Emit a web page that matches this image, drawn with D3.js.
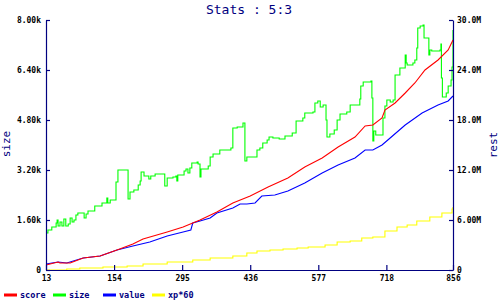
<!DOCTYPE html>
<html>
<head>
<meta charset="utf-8">
<script src="https://cdn.jsdelivr.net/npm/d3@7"></script>
<style>
  body { margin: 0; background: #fff; }
  text { font-family: "DejaVu Sans Mono", monospace; }
</style>
</head>
<body>
<script>
// values, x is the turn number
const xTicks = [13, 154, 295, 436, 577, 718, 856]
const leftTicks = [0, 1600, 3200, 4800, 6400, 8000]
const leftTickLabels = ["0", "1.60k", "3.20k", "4.80k", "6.40k", "8.00k"]
const rightTicks = [0, 6, 12, 18, 24, 30]
const rightTickLabels = ["0", "6.00M", "12.0M", "18.0M", "24.0M", "30.0M"]

// size, left axis
const sizeX = [13,17,25,34,36,38,42,46,50,54,59,63,67,71,75,79,88,92,96,100,112,114,125,129,137,139,141,146,156,158,162,181,183,187,195,204,208,210,216,226,230,239,255,259,264,276,282,284,286,299,303,307,311,315,326,328,332,334,349,353,359,373,396,400,409,421,425,429,446,450,456,462,471,475,483,496,508,523,531,545,549,566,570,576,581,587,593,595,601,610,616,622,636,643,657,663,665,670,686,688,690,692,696,709,711,715,719,726,732,736,746,757,759,761,773,777,781,783,788,794,796,804,806,808,812,829,831,832,834,837,842,846,852,854,856]
const sizeY = [1184,1280,1376,1504,1600,1408,1536,1408,1632,1408,1472,1664,1536,1600,1760,1824,1824,1664,1792,1888,1888,2048,2048,2144,2144,2304,2144,2240,2240,2816,3200,3200,2272,2496,2560,2720,2848,3136,3008,2912,3008,3072,3072,2688,2944,2976,3008,2848,3040,3168,3232,3104,3264,3424,3456,3392,2976,3232,3328,3616,3712,3840,3904,4544,4576,4704,3488,3616,3616,3840,3904,4064,4160,4256,4224,4192,4288,4384,4768,4864,5024,5056,5344,5408,5216,5280,4800,4256,4352,4480,4800,4992,5056,5280,5280,5472,5888,6016,6048,5504,4128,4448,4320,4320,4864,5248,5440,5376,5440,6240,6464,6880,6624,6560,6624,6720,7104,7744,7808,7840,7424,7424,6880,7040,7008,7040,7232,6144,5536,5536,5664,5888,6080,6496,7680]

// score, right axis (millions)
const scoreX = [13,38,42,63,90,125,160,193,214,264,297,332,367,400,436,473,514,549,585,618,653,674,690,709,715,736,757,777,798,825,846,856]
const scoreY = [0.6,0.96,0.84,0.84,1.44,1.68,2.4,3.12,3.72,4.56,5.16,6.0,6.96,8.04,8.88,9.96,11.04,12.36,13.44,14.76,15.96,17.28,17.4,18.24,19.2,20.04,21.24,22.44,24.0,25.2,26.4,27.6]

// value, right axis (millions)
const valueX = [13,38,56,90,125,160,193,228,264,297,313,317,332,353,367,400,415,429,446,460,487,514,549,585,618,653,674,690,709,721,757,792,825,846,856]
const valueY = [0.72,0.96,0.84,1.44,1.68,2.4,2.88,3.36,4.08,4.56,4.8,5.64,5.88,6.24,6.84,7.44,7.92,7.92,8.04,8.88,9.0,9.48,10.44,11.64,12.6,13.44,14.4,14.4,15.0,15.6,17.4,18.84,19.8,20.28,20.88]

// xp*60, right axis (millions)
const xpX = [13,56,83,131,181,214,264,317,353,400,429,450,477,504,533,556,591,616,643,667,690,715,740,761,781,808,833,854,856]
const xpY = [0.0,0.12,0.24,0.36,0.48,0.72,0.96,1.2,1.44,1.68,2.04,2.28,2.4,2.52,2.64,2.76,3.0,3.36,3.48,3.84,3.96,4.68,5.16,5.4,5.88,6.36,6.84,7.32,7.56]

const width = 500, height = 300
const margin = {top: 20, right: 47, bottom: 30, left: 46}
const navy = "#000080"

const svg = d3.select("body")
  .append("svg")
    .attr("width", width)
    .attr("height", height)

const x = d3.scaleLinear()
  .domain([13, 856])
  .range([margin.left, width - margin.right])

const yLeft = d3.scaleLinear()
  .domain([0, 8000])
  .range([height - margin.bottom, margin.top])

const yRight = d3.scaleLinear()
  .domain([0, 30])
  .range([height - margin.bottom, margin.top])

// title
svg.append("text")
  .attr("x", 249)
  .attr("y", 14)
  .attr("text-anchor", "middle")
  .attr("font-size", 13)
  .attr("fill", navy)
  .text("Stats : 5:3")

// lines
const series = [
  {xs: sizeX, ys: sizeY, scale: yLeft, color: "#00ff00", curve: d3.curveStepAfter},
  {xs: xpX, ys: xpY, scale: yRight, color: "#ffff00", curve: d3.curveStepAfter},
  {xs: valueX, ys: valueY, scale: yRight, color: "#0000ff", curve: d3.curveLinear},
  {xs: scoreX, ys: scoreY, scale: yRight, color: "#ff0000", curve: d3.curveLinear}
]

series.forEach(s => {
  const line = d3.line()
    .x(d => x(d[0]))
    .y(d => s.scale(d[1]))
    .curve(s.curve)
  svg.append("path")
    .datum(d3.zip(s.xs, s.ys))
    .attr("fill", "none")
    .attr("stroke", s.color)
    .attr("stroke-width", 1.1)
    .attr("d", line)
})

// axes
function styleAxis(g) {
  g.selectAll("path, line").attr("stroke", navy).attr("stroke-width", 1.2)
  g.selectAll("text").attr("fill", "#000").attr("font-size", 8)
    .attr("font-weight", "bold")
    .attr("font-family", "DejaVu Sans Mono, monospace")
}

svg.append("g")
  .attr("transform", `translate(0,${height - margin.bottom})`)
  .call(d3.axisBottom(x).tickValues(xTicks).tickFormat(d => d)
    .tickSizeInner(-5).tickSizeOuter(0).tickPadding(5))
  .call(styleAxis)

svg.append("g")
  .attr("transform", `translate(${margin.left},0)`)
  .call(d3.axisLeft(yLeft).tickValues(leftTicks)
    .tickFormat((d, i) => leftTickLabels[i])
    .tickSizeInner(-4).tickSizeOuter(0).tickPadding(5))
  .call(styleAxis)

svg.append("g")
  .attr("transform", `translate(${width - margin.right},0)`)
  .call(d3.axisRight(yRight).tickValues(rightTicks)
    .tickFormat((d, i) => rightTickLabels[i])
    .tickSizeInner(-4).tickSizeOuter(0).tickPadding(4))
  .call(styleAxis)

// axis titles
svg.append("text")
  .attr("transform", "translate(10,144) rotate(-90)")
  .attr("text-anchor", "middle")
  .attr("font-size", 11)
  .attr("fill", navy)
  .text("size")

svg.append("text")
  .attr("transform", "translate(497,145) rotate(-90)")
  .attr("text-anchor", "middle")
  .attr("font-size", 11)
  .attr("fill", navy)
  .text("rest")

// legend
const legendNames = ["score", "size", "value", "xp*60"]
const legendColors = ["#ff0000", "#00ff00", "#0000ff", "#ffff00"]
const legendX = [4, 53, 103, 152]

const legend = svg.selectAll(".legend")
  .data(legendNames)
  .enter()
  .append("g")
    .attr("transform", (d, i) => `translate(${legendX[i]},295)`)

legend.append("line")
  .attr("x1", 0).attr("x2", 13)
  .attr("stroke", (d, i) => legendColors[i])
  .attr("stroke-width", 3)

legend.append("text")
  .attr("x", 16)
  .attr("y", 3)
  .attr("font-size", 8.5)
  .attr("font-weight", "bold")
  .attr("fill", navy)
  .text(d => d)
</script>
</body>
</html>
